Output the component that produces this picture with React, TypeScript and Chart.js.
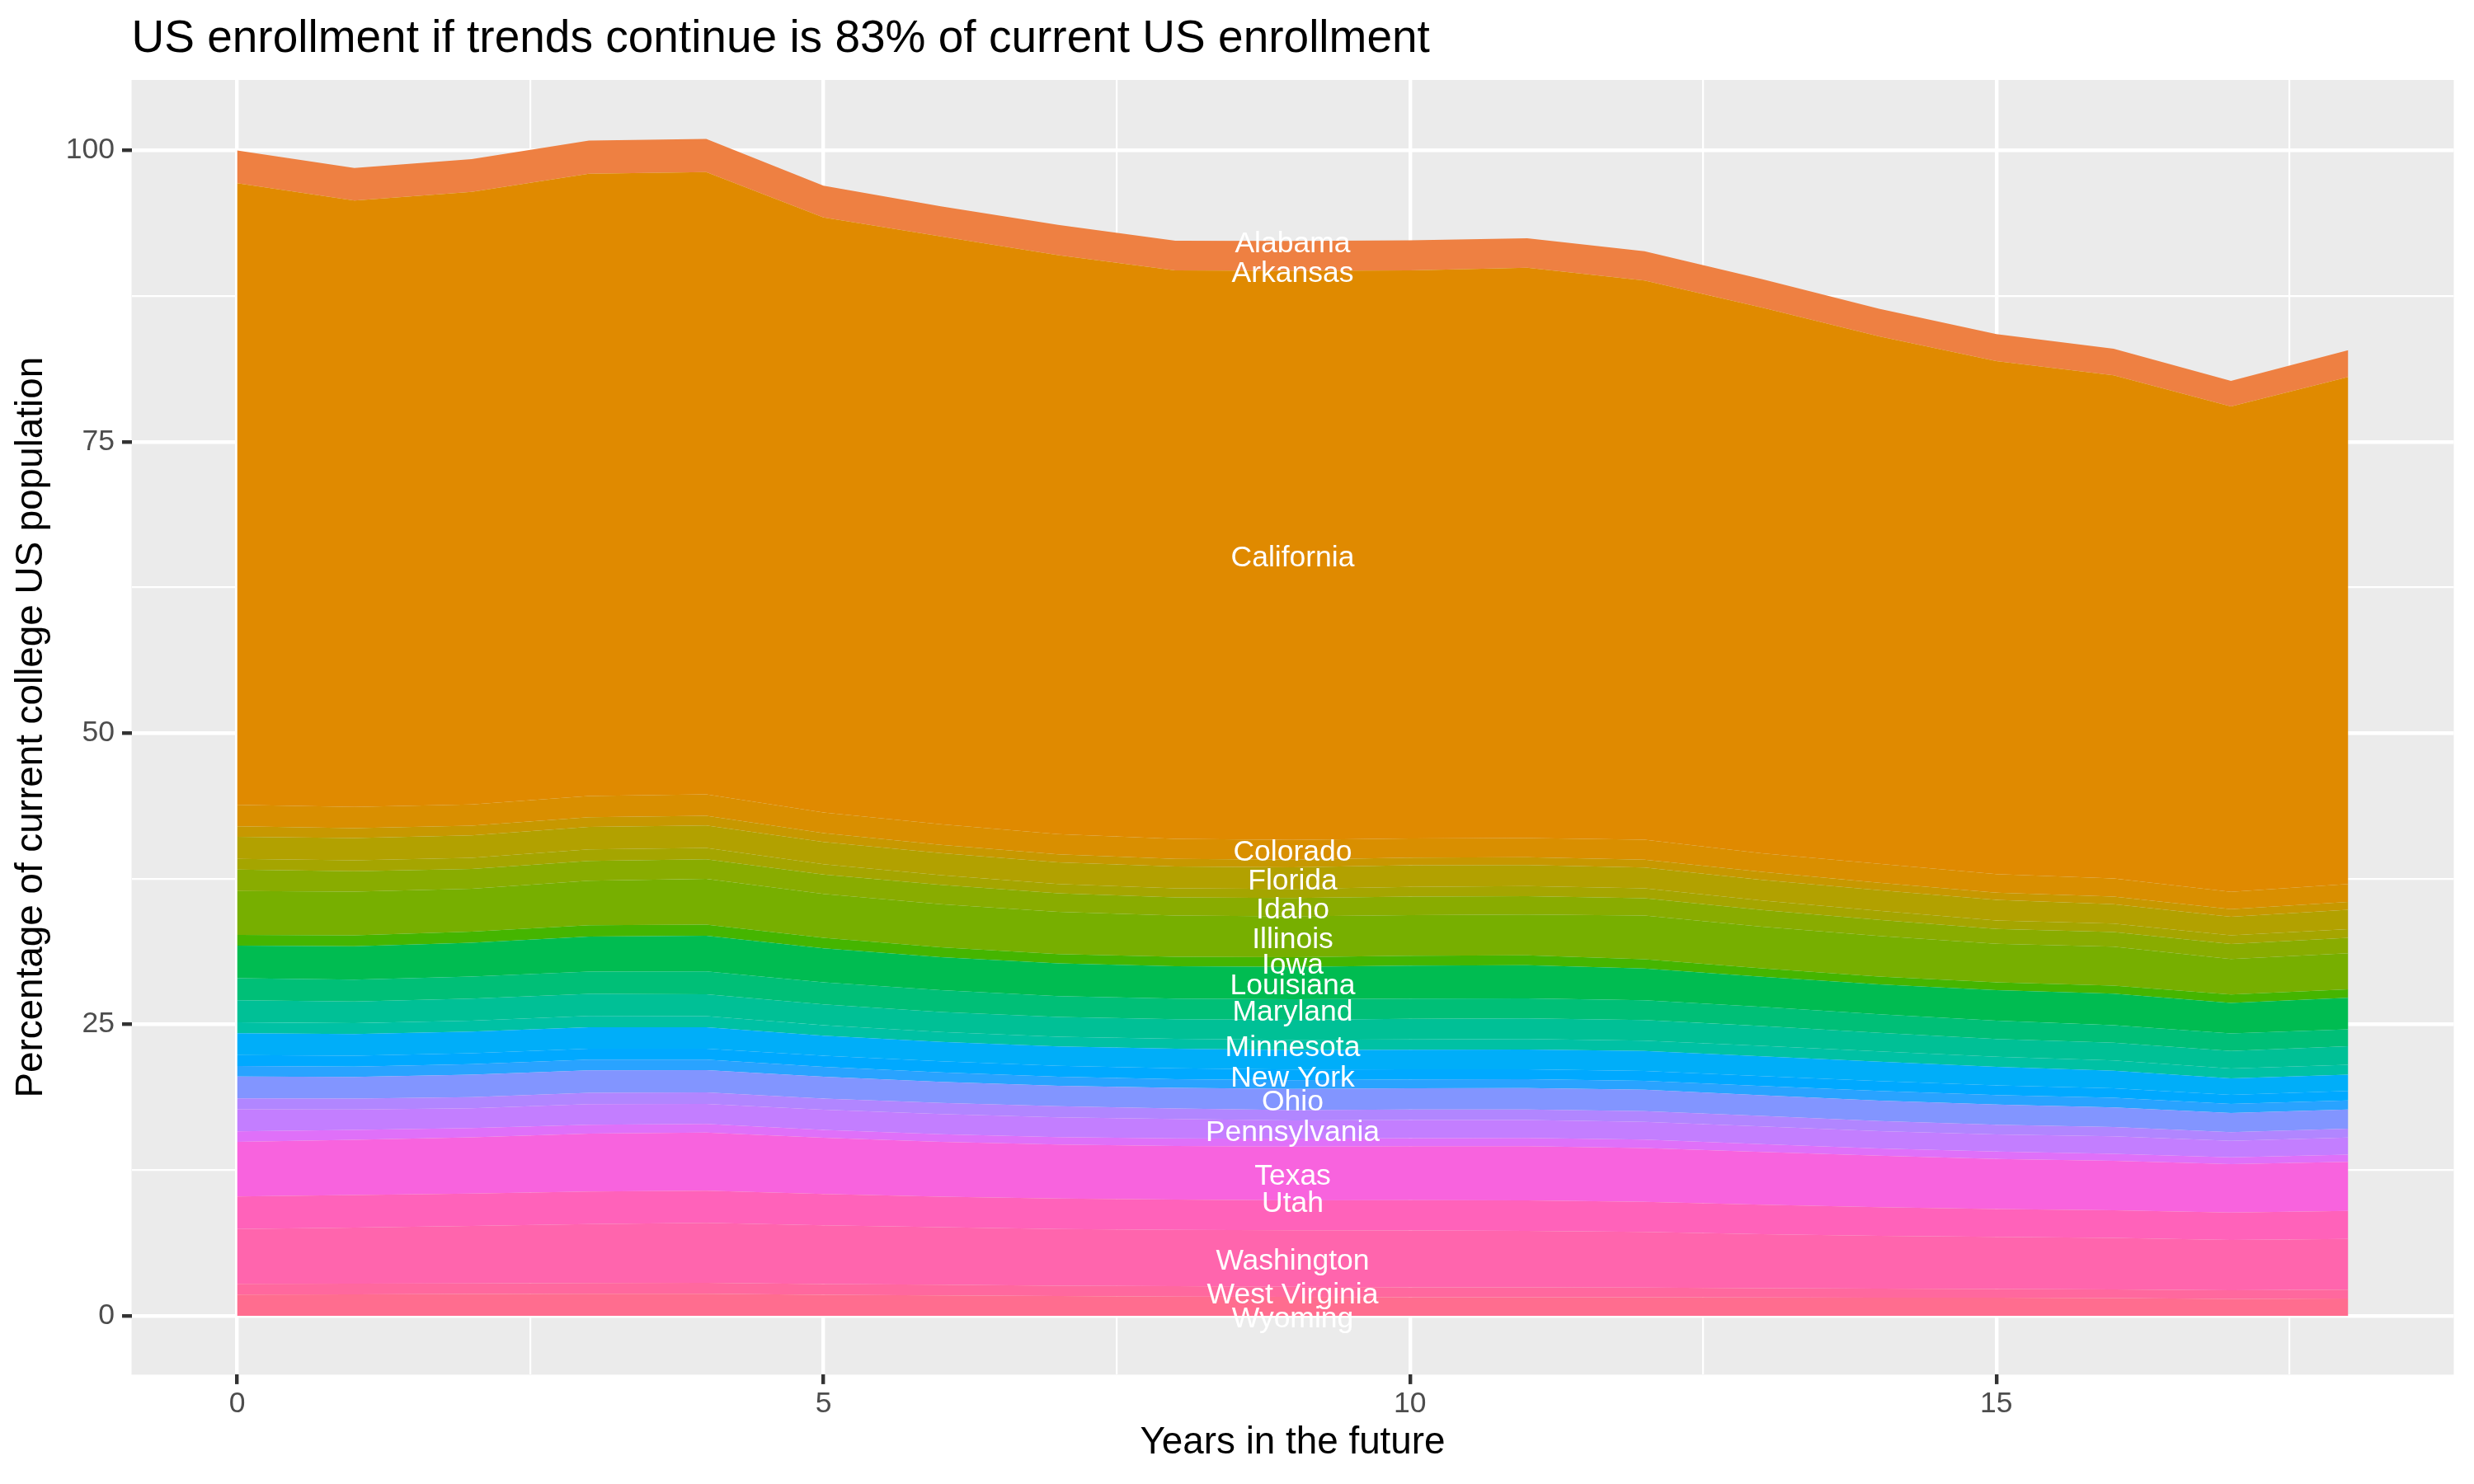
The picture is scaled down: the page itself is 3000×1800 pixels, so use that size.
import React, { useEffect, useRef } from "react";
import { Chart, registerables } from "chart.js";

Chart.register(...registerables);

// ---------- text ----------
const TITLE = "US enrollment if trends continue is 83% of current US enrollment";
const X_TITLE = "Years in the future";
const Y_TITLE = "Percentage of current college US population";

// ---------- axes ----------
const years = [0, 1, 2, 3, 4, 5, 6, 7, 8, 9, 10, 11, 12, 13, 14, 15, 16, 17, 18];
const xTicks = [0, 2.5, 5, 7.5, 10, 12.5, 15, 17.5];
const xMajor = [0, 5, 10, 15];
const yTicks = [0, 12.5, 25, 37.5, 50, 62.5, 75, 87.5, 100];
const yMajor = [0, 25, 50, 75, 100];
const labelYear = 9;

// ---------- categories (factor levels, alphabetical) ----------
const allStates = [
  "Alabama", "Alaska", "Arizona", "Arkansas", "California", "Colorado", "Connecticut",
  "Delaware", "District of Columbia", "Florida", "Georgia", "Hawaii", "Idaho", "Illinois",
  "Indiana", "Iowa", "Kansas", "Kentucky", "Louisiana", "Maine", "Maryland", "Massachusetts",
  "Michigan", "Minnesota", "Mississippi", "Missouri", "Montana", "Nebraska", "Nevada",
  "New Hampshire", "New Jersey", "New Mexico", "New York", "North Carolina", "North Dakota",
  "Ohio", "Oklahoma", "Oregon", "Pennsylvania", "Rhode Island", "South Carolina",
  "South Dakota", "Tennessee", "Texas", "Utah", "Vermont", "Virginia", "Washington",
  "West Virginia", "Wisconsin", "Wyoming",
];

// labels that survive the overlap check in the original
const labelledStates = [
  "Alabama", "Arkansas", "California", "Colorado", "Florida", "Idaho", "Illinois", "Iowa",
  "Louisiana", "Maryland", "Minnesota", "New York", "Ohio", "Pennsylvania", "Texas", "Utah",
  "Washington", "West Virginia", "Wyoming",
];

// ---------- series (percent of current US enrollment, years 0..18) ----------
const arizona = [2.81, 2.78, 2.81, 2.85, 2.85, 2.73, 2.59, 2.6, 2.55, 2.57, 2.58, 2.54, 2.52, 2.43, 2.36, 2.31, 2.29, 2.19, 2.31];
const california = [53.34, 52.04, 52.56, 53.4, 53.4, 51.05, 50.44, 49.68, 48.79, 48.83, 48.74, 48.93, 47.98, 46.84, 45.27, 44.02, 43.17, 41.65, 43.5];
const colorado = [1.84, 1.82, 1.82, 1.82, 1.83, 1.77, 1.76, 1.72, 1.71, 1.69, 1.66, 1.65, 1.72, 1.6, 1.62, 1.59, 1.56, 1.5, 1.54];
const delaware = [0.9, 0.85, 0.83, 0.83, 0.83, 0.77, 0.72, 0.69, 0.66, 0.66, 0.65, 0.66, 0.67, 0.68, 0.63, 0.63, 0.64, 0.64, 0.68];
const florida = [1.89, 1.91, 1.93, 1.92, 1.93, 1.9, 1.88, 1.86, 1.87, 1.86, 1.86, 1.82, 1.78, 1.77, 1.77, 1.76, 1.67, 1.6, 1.65];
const georgia = [0.93, 0.93, 0.95, 0.99, 0.98, 0.9, 0.84, 0.81, 0.78, 0.78, 0.82, 0.86, 0.86, 0.82, 0.79, 0.73, 0.72, 0.75, 0.76];
const idaho = [1.84, 1.76, 1.7, 1.7, 1.67, 1.66, 1.65, 1.59, 1.56, 1.58, 1.6, 1.58, 1.48, 1.42, 1.38, 1.28, 1.26, 1.28, 1.32];
const illinois = [3.76, 3.75, 3.68, 3.82, 3.93, 3.76, 3.71, 3.61, 3.52, 3.49, 3.48, 3.5, 3.75, 3.58, 3.48, 3.3, 3.34, 3.04, 3.1];
const iowa = [0.92, 0.94, 0.96, 0.97, 0.95, 0.9, 0.84, 0.81, 0.83, 0.84, 0.85, 0.84, 0.8, 0.72, 0.67, 0.67, 0.7, 0.73, 0.72];
const louisiana = [2.8, 2.86, 2.9, 3.02, 3.06, 2.93, 2.84, 2.81, 2.77, 2.78, 2.83, 2.86, 2.72, 2.58, 2.57, 2.63, 2.7, 2.62, 2.7];
const maryland = [1.89, 1.87, 1.89, 1.91, 1.96, 1.89, 1.86, 1.79, 1.77, 1.76, 1.73, 1.71, 1.7, 1.65, 1.58, 1.56, 1.51, 1.5, 1.45];
const michigan = [1.89, 1.87, 1.89, 1.89, 1.89, 1.78, 1.72, 1.69, 1.68, 1.72, 1.77, 1.77, 1.76, 1.7, 1.6, 1.52, 1.52, 1.5, 1.6];
const minnesota = [0.94, 0.94, 0.94, 0.96, 0.95, 0.9, 0.86, 0.83, 0.85, 0.88, 0.89, 0.9, 0.9, 0.9, 0.89, 0.88, 0.88, 0.85, 0.84];
const newMexico = [1.88, 1.85, 1.86, 1.85, 1.83, 1.72, 1.66, 1.66, 1.67, 1.66, 1.67, 1.69, 1.71, 1.7, 1.66, 1.58, 1.5, 1.42, 1.4];
const newYork = [0.94, 0.93, 0.94, 0.94, 0.94, 0.95, 0.95, 0.95, 0.94, 0.92, 0.88, 0.85, 0.84, 0.85, 0.85, 0.83, 0.81, 0.77, 0.81];
const northCarolina = [0.9, 0.89, 0.9, 0.91, 0.9, 0.86, 0.82, 0.77, 0.74, 0.74, 0.75, 0.76, 0.76, 0.79, 0.82, 0.82, 0.84, 0.78, 0.78];
const ohio = [1.87, 1.86, 1.93, 1.93, 1.92, 1.86, 1.8, 1.76, 1.78, 1.82, 1.83, 1.85, 1.85, 1.78, 1.76, 1.74, 1.67, 1.65, 1.65];
const oregon = [0.94, 0.94, 0.95, 0.97, 0.98, 0.97, 0.96, 0.94, 0.9, 0.89, 0.9, 0.9, 0.91, 0.9, 0.87, 0.83, 0.8, 0.74, 0.76];
const pennsylvania = [1.89, 1.75, 1.7, 1.77, 1.73, 1.72, 1.72, 1.7, 1.66, 1.58, 1.55, 1.54, 1.53, 1.52, 1.47, 1.47, 1.5, 1.42, 1.46];
const southCarolina = [0.91, 0.84, 0.8, 0.76, 0.73, 0.68, 0.66, 0.64, 0.65, 0.66, 0.69, 0.71, 0.72, 0.66, 0.62, 0.63, 0.6, 0.59, 0.63];
const texas = [4.68, 4.75, 4.82, 4.97, 4.99, 4.83, 4.7, 4.64, 4.6, 4.63, 4.63, 4.65, 4.61, 4.54, 4.42, 4.29, 4.26, 4.14, 4.2];
const virginia = [2.79, 2.79, 2.78, 2.79, 2.77, 2.69, 2.63, 2.61, 2.6, 2.56, 2.61, 2.62, 2.59, 2.53, 2.47, 2.4, 2.36, 2.36, 2.41];
const washington = [4.7, 4.81, 4.93, 5.07, 5.14, 5.03, 4.93, 4.86, 4.83, 4.84, 4.87, 4.83, 4.77, 4.62, 4.53, 4.47, 4.43, 4.32, 4.36];
const westVirginia = [0.93, 0.92, 0.9, 0.91, 0.94, 0.93, 0.92, 0.89, 0.9, 0.88, 0.85, 0.85, 0.84, 0.8, 0.77, 0.75, 0.74, 0.73, 0.75];
const wisconsin = [1.82, 1.84, 1.88, 1.9, 1.89, 1.8, 1.75, 1.7, 1.65, 1.62, 1.6, 1.6, 1.59, 1.58, 1.56, 1.55, 1.52, 1.46, 1.49];

// states not listed here have no enrollment (zero band)
const seriesByState: Record<string, number[]> = {
  Arizona: arizona,
  California: california,
  Colorado: colorado,
  Delaware: delaware,
  Florida: florida,
  Georgia: georgia,
  Idaho: idaho,
  Illinois: illinois,
  Iowa: iowa,
  Louisiana: louisiana,
  Maryland: maryland,
  Michigan: michigan,
  Minnesota: minnesota,
  "New Mexico": newMexico,
  "New York": newYork,
  "North Carolina": northCarolina,
  Ohio: ohio,
  Oregon: oregon,
  Pennsylvania: pennsylvania,
  "South Carolina": southCarolina,
  Texas: texas,
  Virginia: virginia,
  Washington: washington,
  "West Virginia": westVirginia,
  Wisconsin: wisconsin,
};

// ---------- styling helpers ----------
const FONT = '"Liberation Sans", Arial, Helvetica, sans-serif';

// R's hcl() (polar CIE-LUV -> sRGB), as used by ggplot's default hue palette
function hcl(h: number, c: number, l: number): string {
  const WX = 95.047, WY = 100.0, WZ = 108.883;
  const Wu = (4 * WX) / (WX + 15 * WY + 3 * WZ);
  const Wv = (9 * WY) / (WX + 15 * WY + 3 * WZ);
  const hr = (h * Math.PI) / 180;
  const U = c * Math.cos(hr);
  const V = c * Math.sin(hr);
  const Y = WY * (l > 7.999592 ? Math.pow((l + 16) / 116, 3) : l / 903.3);
  const u = U / (13 * l) + Wu;
  const v = V / (13 * l) + Wv;
  const X = (9.0 * Y * u) / (4 * v);
  const Z = -X / 3 - 5 * Y + (3 * Y) / v;
  const g = (t: number) => {
    const x = t > 0.00304 ? 1.055 * Math.pow(t, 1 / 2.4) - 0.055 : 12.92 * t;
    return Math.round(Math.min(1, Math.max(0, x)) * 255);
  };
  const r = g((3.240479 * X - 1.53715 * Y - 0.498535 * Z) / WY);
  const gg = g((-0.969256 * X + 1.875992 * Y + 0.041556 * Z) / WY);
  const b = g((0.055648 * X - 0.204043 * Y + 1.057311 * Z) / WY);
  const hex = (n: number) => n.toString(16).padStart(2, "0");
  return `#${hex(r)}${hex(gg)}${hex(b)}`;
}

export default function App() {
  const ref = useRef<HTMLCanvasElement>(null);

  useEffect(() => {
    const canvas = ref.current;
    if (!canvas) return;
    const n = allStates.length;
    const colorOf = (s: string) => hcl(15 + (360 / n) * allStates.indexOf(s), 100, 65);

    // ggplot stacks the first level on top: bottom of stack = last level
    const stackOrder = [...allStates].reverse().filter((s) => seriesByState[s]);
    const datasets = stackOrder.map((s, i) => ({
      label: s,
      data: years.map((x, k) => ({ x, y: seriesByState[s][k] })),
      backgroundColor: colorOf(s),
      borderColor: colorOf(s),
      borderWidth: 0,
      pointRadius: 0,
      pointHoverRadius: 0,
      tension: 0,
      fill: i === 0 ? "origin" : "-1",
    }));

    // label position: middle of each state's band at the label year
    const kLab = years.indexOf(labelYear);
    const val = (s: string) => (seriesByState[s] ? seriesByState[s][kLab] : 0);
    const labelItems = labelledStates.map((s) => {
      const idx = allStates.indexOf(s);
      let below = 0;
      for (let j = idx + 1; j < n; j++) below += val(allStates[j]);
      return { text: s, y: below + val(s) / 2 };
    });

    const isMajor = (v: number, majors: number[]) => majors.some((m) => Math.abs(m - v) < 1e-9);

    const bgPlugin = {
      id: "ggBackground",
      beforeDraw(chart: any) {
        const { ctx, chartArea: a } = chart;
        ctx.save();
        ctx.fillStyle = "#FFFFFF";
        ctx.fillRect(0, 0, chart.width, chart.height);
        ctx.fillStyle = "#EBEBEB";
        ctx.fillRect(a.left, a.top, a.right - a.left, a.bottom - a.top);
        ctx.restore();
      },
    };

    const labelPlugin = {
      id: "stateLabels",
      afterDatasetsDraw(chart: any) {
        const { ctx } = chart;
        const xs = chart.scales.x;
        const ys = chart.scales.y;
        ctx.save();
        ctx.font = `35.5px ${FONT}`;
        ctx.fillStyle = "#FFFFFF";
        ctx.textAlign = "center";
        ctx.textBaseline = "middle";
        const px = xs.getPixelForValue(labelYear);
        labelItems.forEach((it) => {
          // vertical centring of the text box like ggplot's vjust = 0.5
          ctx.fillText(it.text, px, ys.getPixelForValue(it.y) + 4);
        });
        ctx.restore();
      },
    };

    const titlePlugin = {
      id: "ggTitle",
      afterDraw(chart: any) {
        const { ctx, chartArea: a } = chart;
        ctx.save();
        ctx.font = `55px ${FONT}`;
        ctx.fillStyle = "#000000";
        ctx.textAlign = "left";
        ctx.textBaseline = "alphabetic";
        ctx.fillText(TITLE, a.left, 63);
        ctx.restore();
      },
    };

    const chart = new Chart(canvas, {
      type: "line",
      data: { datasets: datasets as any },
      options: {
        animation: false,
        responsive: false,
        devicePixelRatio: 1,
        events: [],
        layout: { padding: { top: 97, right: 24.5, bottom: 0, left: 0 } },
        plugins: {
          legend: { display: false },
          tooltip: { enabled: false },
          title: { display: false },
        },
        elements: { point: { radius: 0 }, line: { borderWidth: 0, tension: 0 } },
        scales: {
          x: {
            type: "linear",
            min: -0.9,
            max: 18.9,
            afterFit: (s: any) => {
              s.height = 132.6;
            },
            afterBuildTicks: (s: any) => {
              s.ticks = xTicks.map((v) => ({ value: v }));
            },
            border: { display: false },
            grid: {
              color: "#FFFFFF",
              lineWidth: (c: any) => (isMajor(c.tick.value, xMajor) ? 4.4 : 2.2),
              drawTicks: true,
              tickLength: 11.5,
              tickWidth: 4.4,
              tickColor: (c: any) => (isMajor(c.tick.value, xMajor) ? "#333333" : "rgba(0,0,0,0)"),
            },
            ticks: {
              autoSkip: false,
              maxRotation: 0,
              minRotation: 0,
              padding: 3,
              color: "#4D4D4D",
              font: { family: FONT, size: 35.5 },
              callback: (v: any) => (isMajor(Number(v), xMajor) ? String(v) : ""),
            },
            title: {
              display: true,
              text: X_TITLE,
              color: "#000000",
              font: { family: FONT, size: 45.8 },
              padding: { top: 0, bottom: 22 },
            },
          },
          y: {
            type: "linear",
            stacked: true,
            min: -5.05,
            max: 106.05,
            afterFit: (s: any) => {
              s.width = 159.5;
            },
            afterBuildTicks: (s: any) => {
              s.ticks = yTicks.map((v) => ({ value: v }));
            },
            border: { display: false },
            grid: {
              color: "#FFFFFF",
              lineWidth: (c: any) => (isMajor(c.tick.value, yMajor) ? 4.4 : 2.2),
              drawTicks: true,
              tickLength: 11.5,
              tickWidth: 4.4,
              tickColor: (c: any) => (isMajor(c.tick.value, yMajor) ? "#333333" : "rgba(0,0,0,0)"),
            },
            ticks: {
              autoSkip: false,
              padding: 9,
              color: "#4D4D4D",
              font: { family: FONT, size: 35.5 },
              callback: (v: any) => (isMajor(Number(v), yMajor) ? String(v) : ""),
            },
            title: {
              display: true,
              text: Y_TITLE,
              color: "#000000",
              font: { family: FONT, size: 45.8 },
              padding: { top: 11, bottom: 0 },
            },
          },
        },
      },
      plugins: [bgPlugin, labelPlugin, titlePlugin],
    });

    return () => chart.destroy();
  }, []);

  return (
    <div style={{ position: "absolute", left: 0, top: 0, width: 3000, height: 1800, background: "#FFFFFF" }}>
      <canvas ref={ref} width={3000} height={1800} style={{ width: 3000, height: 1800, display: "block" }} />
    </div>
  );
}
